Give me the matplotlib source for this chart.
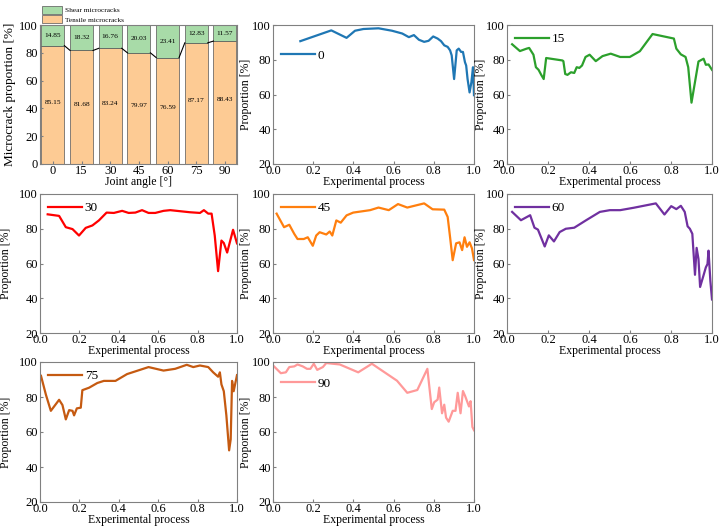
import numpy as np
import matplotlib
matplotlib.use('Agg')
import matplotlib.pyplot as plt

plt.rcParams['font.family'] = ['Liberation Serif', 'DejaVu Serif']
plt.rcParams['font.size'] = 8.5
plt.rcParams['axes.edgecolor'] = '#808080'
plt.rcParams['axes.linewidth'] = 0.8
plt.rcParams['xtick.direction'] = 'in'
plt.rcParams['ytick.direction'] = 'in'
plt.rcParams['xtick.major.size'] = 2.5
plt.rcParams['ytick.major.size'] = 2.5
plt.rcParams['xtick.major.pad'] = 0.8
plt.rcParams['ytick.major.pad'] = 1.5
plt.rcParams['xtick.color'] = '#808080'
plt.rcParams['ytick.color'] = '#808080'
plt.rcParams['xtick.labelcolor'] = 'black'
plt.rcParams['ytick.labelcolor'] = 'black'
plt.rcParams['xtick.labelsize'] = 9
plt.rcParams['ytick.labelsize'] = 9

# bar chart data
angles = ['0', '15', '30', '45', '60', '75', '90']
tensile = [85.15, 81.68, 83.24, 79.97, 76.59, 87.17, 88.43]
shear = [14.85, 18.32, 16.76, 20.03, 23.41, 12.83, 11.57]

# proportion curves per joint angle
x0 = [0.136, 0.29, 0.366, 0.408, 0.45, 0.525, 0.592, 0.643, 0.676, 0.701, 0.726, 0.752, 0.774, 0.797,
      0.819, 0.836, 0.852, 0.869, 0.881, 0.889, 0.901, 0.914, 0.924, 0.936, 0.945, 0.955, 0.961, 0.968,
      0.978, 0.987, 0.995, 1.0]
y0 = [90.7, 96.9, 92.6, 96.7, 97.7, 98.1, 96.7, 95.1, 93.0, 94.2, 91.5, 90.3, 90.9, 93.4,
      92.2, 90.7, 88.3, 87.4, 85.4, 82.5, 68.9, 85.4, 86.4, 84.5, 84.5, 78.6, 76.7, 68.9,
      61.2, 67.0, 75.7, 59.6]

x15 = [0.025, 0.063, 0.096, 0.108, 0.129, 0.141, 0.154, 0.167, 0.179, 0.191, 0.270, 0.275, 0.284,
       0.295, 0.312, 0.328, 0.340, 0.353, 0.366, 0.383, 0.403, 0.433, 0.466, 0.506, 0.552, 0.599,
       0.648, 0.710, 0.814, 0.826, 0.848, 0.871, 0.884, 0.900, 0.934, 0.959, 0.970, 0.983, 1.0]
y15 = [88.9, 85.0, 86.4, 86.8, 82.9, 75.7, 74.2, 71.3, 68.9, 81.0, 79.6, 79.2, 71.8,
       71.3, 72.8, 72.4, 75.7, 75.3, 76.7, 81.6, 82.9, 79.2, 82.1, 83.5, 81.6, 81.6,
       84.9, 94.8, 92.2, 86.4, 83.1, 81.6, 75.7, 55.3, 79.0, 80.6, 77.1, 77.3, 74.2]

x30 = [0.039, 0.097, 0.131, 0.165, 0.198, 0.232, 0.266, 0.299, 0.338, 0.375, 0.417, 0.450, 0.484,
       0.518, 0.551, 0.585, 0.627, 0.661, 0.711, 0.761, 0.812, 0.832, 0.854, 0.871, 0.887, 0.904,
       0.921, 0.933, 0.950, 0.980, 1.0]
y30 = [88.3, 87.4, 80.9, 79.8, 76.1, 80.5, 81.9, 84.8, 89.3, 89.1, 90.3, 89.1, 89.3,
       90.7, 89.1, 89.1, 90.3, 90.7, 90.1, 89.5, 89.1, 90.7, 88.7, 88.7, 76.1, 55.6,
       73.2, 71.8, 66.3, 79.4, 71.6]

x45 = [0.018, 0.055, 0.081, 0.106, 0.122, 0.153, 0.173, 0.198, 0.215, 0.232, 0.265, 0.282, 0.295,
       0.315, 0.337, 0.366, 0.399, 0.483, 0.525, 0.576, 0.622, 0.668, 0.752, 0.794, 0.852, 0.869,
       0.881, 0.894, 0.911, 0.928, 0.941, 0.953, 0.965, 0.978, 0.990, 1.0]
y45 = [88.7, 80.9, 82.3, 77.0, 74.1, 74.1, 75.1, 70.2, 76.1, 78.0, 76.7, 78.4, 76.1,
       84.8, 83.5, 87.7, 89.3, 90.7, 92.2, 90.7, 94.2, 92.2, 94.6, 91.2, 91.0, 86.8,
       75.1, 61.9, 71.6, 72.2, 67.7, 75.1, 69.6, 72.2, 68.7, 62.0]

x60 = [0.025, 0.068, 0.113, 0.134, 0.151, 0.184, 0.204, 0.229, 0.257, 0.287, 0.328, 0.386, 0.453,
       0.502, 0.552, 0.619, 0.726, 0.768, 0.801, 0.826, 0.848, 0.867, 0.881, 0.892, 0.904, 0.917,
       0.925, 0.934, 0.942, 0.958, 0.970, 0.978, 0.983, 0.992, 1.0]
y60 = [89.7, 84.9, 87.8, 80.6, 79.5, 69.8, 76.2, 72.7, 78.1, 80.0, 80.6, 84.9, 89.7,
       90.7, 90.7, 92.1, 94.6, 88.2, 93.0, 91.3, 93.2, 89.7, 81.4, 80.0, 77.1, 53.5,
       69.0, 62.6, 46.5, 52.9, 57.8, 59.7, 67.4, 50.0, 39.3]

x75 = [0.005, 0.030, 0.055, 0.097, 0.114, 0.131, 0.148, 0.165, 0.173, 0.187, 0.207, 0.215, 0.249,
       0.291, 0.324, 0.383, 0.442, 0.551, 0.627, 0.686, 0.745, 0.778, 0.812, 0.854, 0.879, 0.904,
       0.913, 0.921, 0.933, 0.946, 0.960, 0.968, 0.975, 0.983, 1.0]
y75 = [92.1, 81.3, 72.1, 78.4, 75.4, 67.2, 72.5, 72.1, 69.5, 73.5, 73.9, 83.9, 85.3,
       88.0, 89.2, 89.2, 93.1, 97.1, 95.1, 96.1, 98.4, 97.1, 98.0, 97.1, 94.1, 91.6,
       94.1, 87.2, 83.3, 69.5, 49.5, 55.8, 89.2, 83.3, 92.5]

x90 = [0.005, 0.039, 0.064, 0.081, 0.106, 0.122, 0.148, 0.169, 0.186, 0.203, 0.220, 0.248, 0.265,
       0.332, 0.424, 0.492, 0.617, 0.668, 0.718, 0.768, 0.790, 0.802, 0.819, 0.827, 0.841, 0.852,
       0.861, 0.874, 0.894, 0.908, 0.919, 0.933, 0.945, 0.956, 0.975, 0.983, 0.992, 1.0]
y90 = [97.5, 93.6, 94.1, 97.1, 97.5, 98.6, 97.5, 96.1, 96.1, 99.0, 95.5, 97.1, 99.4,
       98.6, 94.1, 99.0, 89.3, 82.4, 84.0, 96.1, 73.1, 77.0, 78.5, 85.4, 70.7, 75.6,
       68.2, 65.9, 72.1, 72.1, 82.4, 70.7, 83.4, 80.5, 74.6, 77.6, 62.9, 61.0]

series = [('0', x0, y0, '#1f77b4'), ('15', x15, y15, '#2ca02c'), ('30', x30, y30, '#ff0000'),
          ('45', x45, y45, '#ff7f0e'), ('60', x60, y60, '#7030a0'), ('75', x75, y75, '#c55a11'),
          ('90', x90, y90, '#ff9999')]

W, H = 720, 526
fig = plt.figure(figsize=(7.2, 5.26), dpi=100)

col_x = [(40, 237), (273, 474), (507, 712)]
row_y = [(25, 164), (194, 333), (362, 502)]
ylab_off = [-28, -21, -20]   # ylabel centre, px left of spine


def add_ax(r, c):
    l, rr = col_x[c]
    t, b = row_y[r]
    a = fig.add_axes([l / W, 1 - b / H, (rr - l) / W, (b - t) / H])
    return a


# stacked bar chart
ax = add_ax(0, 0)
pos = np.arange(len(angles))
bw = 0.8
ax.bar(pos, tensile, bw, color='#fdcb94', edgecolor='#555555', linewidth=0.5, label='Tensile microcracks')
ax.bar(pos, shear, bw, bottom=tensile, color='#a8dba8', edgecolor='#555555', linewidth=0.5,
       label='Shear microcracks')
for i in range(len(angles) - 1):
    ax.plot([pos[i] + bw / 2, pos[i + 1] - bw / 2], [tensile[i], tensile[i + 1]], color='black', lw=0.8)
for i in range(len(angles)):
    ax.text(pos[i], tensile[i] / 2 + 2, f'{tensile[i]:.2f}', ha='center', va='center', fontsize=5.3)
    ax.text(pos[i], tensile[i] + shear[i] / 2, f'{shear[i]:.2f}', ha='center', va='center', fontsize=5.3)
ax.set_xlim(-0.45, 6.42)
ax.set_ylim(0, 100)
ax.set_xticks(pos)
ax.set_xticklabels(angles)
ax.set_yticks(range(0, 101, 20))
ax.set_xlabel('Joint angle [°]', labelpad=-0.5)
ax.set_ylabel('Microcrack proportion [%]', fontsize=9.5)
ax.yaxis.set_label_coords(-24 / 197, 0.5)
h, lab = ax.get_legend_handles_labels()
ax.legend(h[::-1], lab[::-1], loc='lower left', bbox_to_anchor=(-0.01, 0.99), frameon=False,
          fontsize=5.2, handlelength=2.8, handleheight=1.2, labelspacing=0.25, borderpad=0,
          handletextpad=0.4)

# line panels
slots = [(0, 1), (0, 2), (1, 0), (1, 1), (1, 2), (2, 0), (2, 1)]
leg_anchor = {'0': (0.0, 0.88), '90': (0.0, 0.945)}
for (name, xs, ys, col), (r, c) in zip(series, slots):
    a = add_ax(r, c)
    a.plot(xs, ys, color=col, lw=1.6, label=name)
    a.set_xlim(0, 1)
    a.set_ylim(20, 100)
    a.set_xticks(np.arange(0, 1.01, 0.2))
    a.set_yticks(range(20, 101, 20))
    a.set_xlabel('Experimental process', labelpad=-1)
    a.set_ylabel('Proportion [%]')
    wpx = col_x[c][1] - col_x[c][0]
    a.yaxis.set_label_coords(ylab_off[c] / wpx, 0.5)
    a.legend(loc='upper left', bbox_to_anchor=leg_anchor.get(name, (0.0, 1.0)), frameon=False,
             fontsize=9.5, handlelength=2.6, handletextpad=0.2, borderaxespad=0.2)

fig.savefig('out.png', dpi=100)
